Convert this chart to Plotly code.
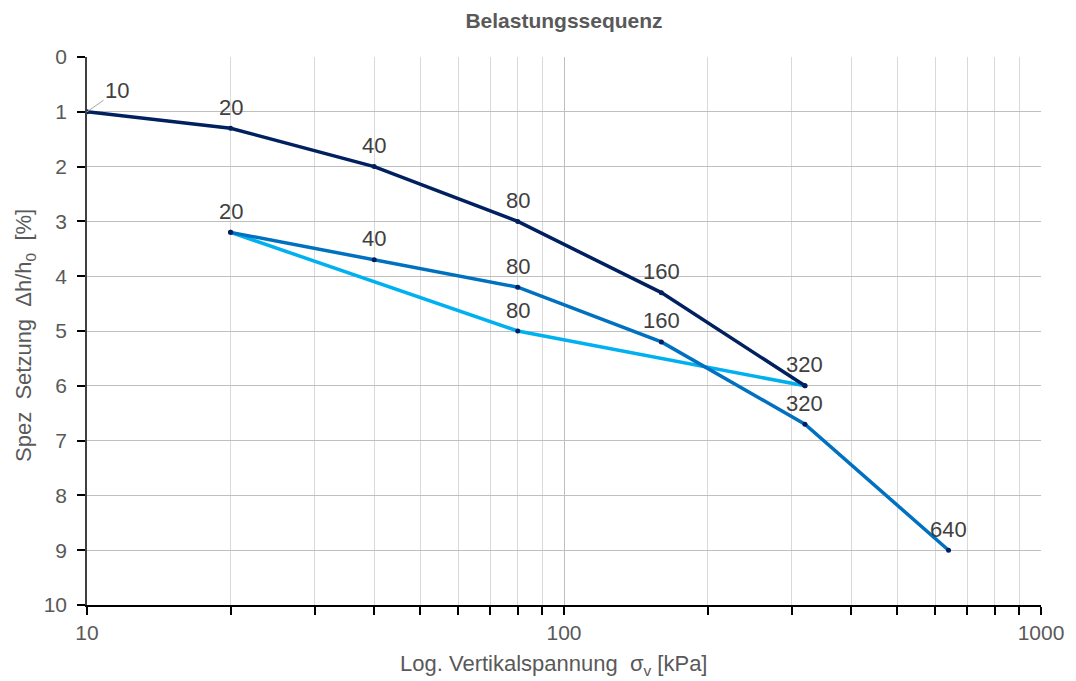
import math
import plotly.graph_objects as go

# Data
load1_x = [10, 20, 40, 80, 160, 320]
load1_y = [1.0, 1.3, 2.0, 3.0, 4.3, 6.0]
load1_txt = ["10", "20", "40", "80", "160", "320"]

unload_x = [320, 80, 20]
unload_y = [6.0, 5.0, 3.2]
unload_txt = ["", "80", ""]

load2_x = [20, 40, 80, 160, 320, 640]
load2_y = [3.2, 3.7, 4.2, 5.2, 6.7, 9.0]
load2_txt = ["20", "40", "80", "160", "320", "640"]

minor_x = [v * d for d in (10, 100) for v in range(2, 10)]

marker_col = "#002060"
FONT = "Liberation Sans, Arial, sans-serif"
lab_font = dict(family=FONT, size=22, color="#404040")
NB = "\u00a0"

fig = go.Figure()


def add_series(xs, ys, txt, color, skip_first_label=False):
    fig.add_trace(go.Scatter(x=xs, y=ys, mode="lines+markers",
                             line=dict(color=color, width=3.5),
                             marker=dict(color=marker_col, size=5), showlegend=False))
    for i, (a, b, t) in enumerate(zip(xs, ys, txt)):
        if t and not (skip_first_label and i == 0):
            # annotations on a log axis take log10 coordinates
            fig.add_annotation(x=math.log10(a), y=b, xref="x", yref="y", text=t,
                               showarrow=False, yshift=21, xanchor="center",
                               yanchor="middle", font=lab_font)


add_series(unload_x, unload_y, unload_txt, "#00B0F0")
add_series(load2_x, load2_y, load2_txt, "#0070C0")
add_series(load1_x, load1_y, load1_txt, "#002060", skip_first_label=True)

fig.add_annotation(x=math.log10(load1_x[0]), y=load1_y[0], xref="x", yref="y",
                   text=load1_txt[0], showarrow=True, arrowhead=0,
                   arrowcolor="#a6a6a6", arrowwidth=1, ax=30, ay=-21,
                   xanchor="center", font=lab_font)

# axis titles as annotations for exact placement
fig.add_annotation(x=0.4885, y=-0.1095, xref="paper", yref="paper",
                   text=f"Log. Vertikalspannung{NB}{NB}σ<sub>v</sub> [kPa]",
                   showarrow=False, xanchor="center", yanchor="middle",
                   font=dict(family=FONT, size=22, color="#595959"))
fig.add_annotation(x=-0.065, y=0.4927, xref="paper", yref="paper", textangle=-90,
                   text=f"Spez{NB}{NB}Setzung{NB}{NB}Δh/h<sub>0</sub>{NB}{NB}[%]",
                   showarrow=False, xanchor="center", yanchor="middle",
                   font=dict(family=FONT, size=22, color="#595959"))

fig.update_layout(
    width=1076, height=681,
    margin=dict(l=87, r=35, t=57, b=76),
    paper_bgcolor="white", plot_bgcolor="white",
    font=dict(family=FONT, color="#595959"),
    title=dict(text="<b>Belastungssequenz</b>", x=0.5, xref="paper", y=0.97, yanchor="middle",
               font=dict(size=21, color="#595959")),
    xaxis=dict(type="log", range=[1, 3], tickvals=[10, 100, 1000],
               ticktext=["10", "100", "1000"],
               showgrid=True, gridcolor="#bfbfbf", gridwidth=1,
               showline=True, linecolor="#000000", linewidth=2,
               ticks="outside", ticklen=8, tickcolor="#000000", tickwidth=1.5,
               tickfont=dict(size=21, color="#595959"),
               minor=dict(tickvals=minor_x, showgrid=True, gridcolor="#d9d9d9", gridwidth=1,
                          ticks="outside", ticklen=8, tickcolor="#000000", tickwidth=1.5),
               zeroline=False),
    yaxis=dict(range=[10, 0], dtick=1, tick0=0,
               showgrid=True, gridcolor="#bfbfbf", gridwidth=1,
               showline=True, linecolor="#404040", linewidth=1.5,
               ticks="outside", ticklen=8, tickcolor="#000000", tickwidth=1.5,
               ticklabelstandoff=6,
               tickfont=dict(size=21, color="#595959"),
               zeroline=False),
)

fig.write_html("out.html", post_script="document.body.style.margin='0';",
               config={"displayModeBar": False})
